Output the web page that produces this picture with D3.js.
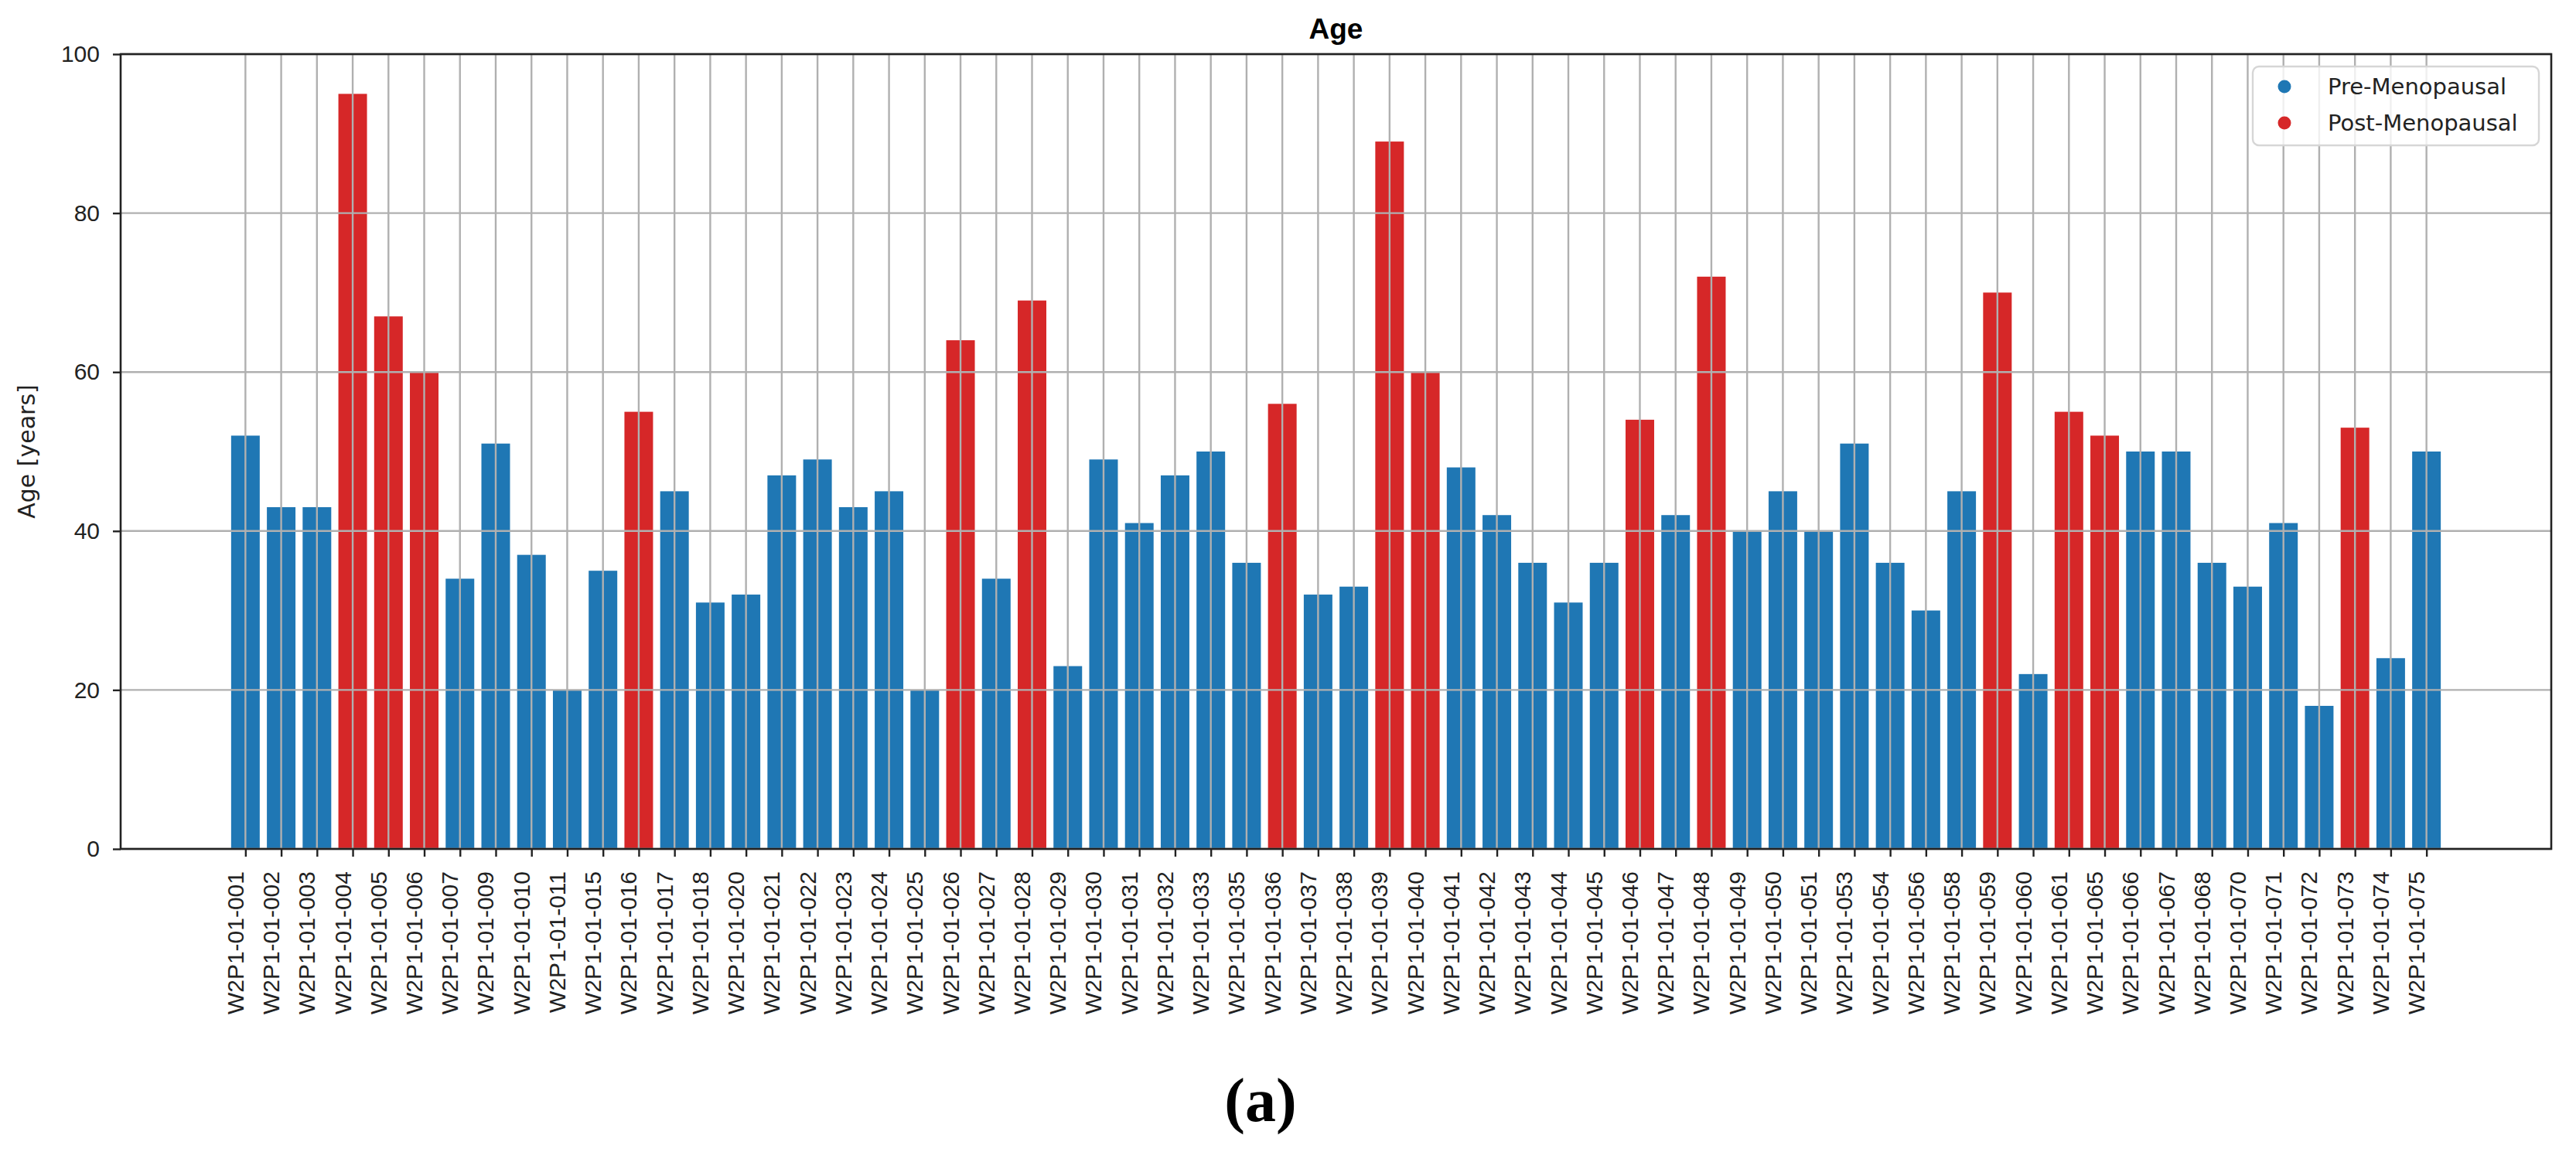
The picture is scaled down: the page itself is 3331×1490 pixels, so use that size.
<!DOCTYPE html>
<html>
<head>
<meta charset="utf-8">
<script src="https://cdnjs.cloudflare.com/ajax/libs/d3/7.8.5/d3.min.js"></script>
<style>
  body { margin: 0; background: #fff; }
  svg { display: block; }
</style>
</head>
<body>
<div id="chart"></div>
<script>
// patient ids, ages and menopausal status
const patients = [
  "W2P1-01-001", "W2P1-01-002", "W2P1-01-003", "W2P1-01-004", "W2P1-01-005", "W2P1-01-006",
  "W2P1-01-007", "W2P1-01-009", "W2P1-01-010", "W2P1-01-011", "W2P1-01-015", "W2P1-01-016",
  "W2P1-01-017", "W2P1-01-018", "W2P1-01-020", "W2P1-01-021", "W2P1-01-022", "W2P1-01-023",
  "W2P1-01-024", "W2P1-01-025", "W2P1-01-026", "W2P1-01-027", "W2P1-01-028", "W2P1-01-029",
  "W2P1-01-030", "W2P1-01-031", "W2P1-01-032", "W2P1-01-033", "W2P1-01-035", "W2P1-01-036",
  "W2P1-01-037", "W2P1-01-038", "W2P1-01-039", "W2P1-01-040", "W2P1-01-041", "W2P1-01-042",
  "W2P1-01-043", "W2P1-01-044", "W2P1-01-045", "W2P1-01-046", "W2P1-01-047", "W2P1-01-048",
  "W2P1-01-049", "W2P1-01-050", "W2P1-01-051", "W2P1-01-053", "W2P1-01-054", "W2P1-01-056",
  "W2P1-01-058", "W2P1-01-059", "W2P1-01-060", "W2P1-01-061", "W2P1-01-065", "W2P1-01-066",
  "W2P1-01-067", "W2P1-01-068", "W2P1-01-070", "W2P1-01-071", "W2P1-01-072", "W2P1-01-073",
  "W2P1-01-074", "W2P1-01-075"
];
const ages = [
  52, 43, 43, 95, 67, 60,
  34, 51, 37, 20, 35, 55,
  45, 31, 32, 47, 49, 43,
  45, 20, 64, 34, 69, 23,
  49, 41, 47, 50, 36, 56,
  32, 33, 89, 60, 48, 42,
  36, 31, 36, 54, 42, 72,
  40, 45, 40, 51, 36, 30,
  45, 70, 22, 55, 52, 50,
  50, 36, 33, 41, 18, 53,
  24, 50
];
const status = [
  "Pre", "Pre", "Pre", "Post", "Post", "Post",
  "Pre", "Pre", "Pre", "Pre", "Pre", "Post",
  "Pre", "Pre", "Pre", "Pre", "Pre", "Pre",
  "Pre", "Pre", "Post", "Pre", "Post", "Pre",
  "Pre", "Pre", "Pre", "Pre", "Pre", "Post",
  "Pre", "Pre", "Post", "Post", "Pre", "Pre",
  "Pre", "Pre", "Pre", "Post", "Pre", "Post",
  "Pre", "Pre", "Pre", "Pre", "Pre", "Pre",
  "Pre", "Post", "Pre", "Post", "Post", "Pre",
  "Pre", "Pre", "Pre", "Pre", "Pre", "Post",
  "Pre", "Pre"
];
const yTicks = [0, 20, 40, 60, 80, 100];
const legendLabels = ["Pre-Menopausal", "Post-Menopausal"];

const W = 3331, H = 1490;
const margins = { top: 70, right: 32, bottom: 392, left: 156 };
const width = W - margins.left - margins.right;
const height = H - margins.top - margins.bottom;

const tickFont = "'Liberation Sans', Arial, sans-serif";
const legendFont = "'DejaVu Sans', sans-serif";

const svg = d3.select("#chart")
  .append("svg")
  .attr("width", W)
  .attr("height", H);

const g = svg.append("g")
  .attr("transform", `translate(${margins.left},${margins.top})`);

const data = patients.map((p, i) => ({ i: i, id: p, age: ages[i], status: status[i] }));

// matplotlib style x limits: bar width 0.8 plus 5% margin
const n = patients.length;
const pad = 0.05 * (n - 1 + 0.8);
const x = d3.scaleLinear()
  .domain([-0.4 - pad, n - 1 + 0.4 + pad])
  .range([0, width]);
const bw = x(0.8) - x(0);

const y = d3.scaleLinear()
  .domain([0, 100])
  .range([height, 0]);

const color = d3.scaleOrdinal()
  .domain(["Pre", "Post"])
  .range(["#1f77b4", "#d62728"]);

// bars
g.selectAll(".bar")
  .data(data)
  .join("rect")
  .attr("class", "bar")
  .attr("x", d => x(d.i) - bw / 2)
  .attr("width", bw)
  .attr("y", d => y(d.age))
  .attr("height", d => height - y(d.age))
  .attr("fill", d => color(d.status));

// grid above bars
g.append("g")
  .selectAll("line")
  .data(d3.range(n))
  .join("line")
  .attr("x1", d => x(d)).attr("x2", d => x(d))
  .attr("y1", 0).attr("y2", height)
  .attr("stroke", "#b0b0b0")
  .attr("stroke-width", 2.4);

g.append("g")
  .selectAll("line")
  .data(yTicks)
  .join("line")
  .attr("x1", 0).attr("x2", width)
  .attr("y1", d => y(d)).attr("y2", d => y(d))
  .attr("stroke", "#b0b0b0")
  .attr("stroke-width", 2.4);

// frame
g.append("rect")
  .attr("width", width)
  .attr("height", height)
  .attr("fill", "none")
  .attr("stroke", "#222")
  .attr("stroke-width", 2.6);

// x axis
const xAxis = g.append("g")
  .attr("transform", `translate(0,${height})`)
  .call(d3.axisBottom(x)
    .tickValues(d3.range(n))
    .tickFormat(i => patients[i])
    .tickSize(10));
xAxis.select(".domain").remove();
xAxis.selectAll(".tick line").attr("stroke", "#222").attr("stroke-width", 2.4);
xAxis.selectAll(".tick text")
  .attr("font-family", tickFont)
  .attr("font-size", 30)
  .attr("fill", "#222")
  .attr("text-anchor", "end")
  .attr("transform", "translate(0,29) rotate(-90)")
  .attr("x", 0)
  .attr("y", -3)
  .attr("dy", 0);

// y axis
const yAxis = g.append("g")
  .call(d3.axisLeft(y)
    .tickValues(yTicks)
    .tickSize(10)
    .tickPadding(17));
yAxis.select(".domain").remove();
yAxis.selectAll(".tick line").attr("stroke", "#222").attr("stroke-width", 2.4);
yAxis.selectAll(".tick text")
  .attr("font-family", tickFont)
  .attr("font-size", 30)
  .attr("fill", "#222");

// y label
svg.append("text")
  .attr("transform", `translate(45,${margins.top + height / 2}) rotate(-90)`)
  .attr("text-anchor", "middle")
  .attr("font-family", legendFont)
  .attr("font-size", 30)
  .attr("fill", "#222")
  .text("Age [years]");

// title
svg.append("text")
  .attr("x", margins.left + width / 2)
  .attr("y", 50)
  .attr("text-anchor", "middle")
  .attr("font-family", tickFont)
  .attr("font-weight", "bold")
  .attr("font-size", 37)
  .attr("fill", "#000")
  .text("Age");

// legend
const legend = svg.append("g")
  .attr("transform", "translate(2913,86)");
legend.append("rect")
  .attr("width", 370)
  .attr("height", 102)
  .attr("rx", 8)
  .attr("fill", "#fff")
  .attr("fill-opacity", 0.8)
  .attr("stroke", "#d6d6d6")
  .attr("stroke-width", 2.4);
legendLabels.forEach(function(lbl, k) {
  const row = legend.append("g")
    .attr("transform", `translate(0,${26 + k * 47})`);
  row.append("circle")
    .attr("cx", 41)
    .attr("r", 8.5)
    .attr("fill", color(["Pre", "Post"][k]));
  row.append("text")
    .attr("x", 97)
    .attr("dy", "0.36em")
    .attr("font-family", legendFont)
    .attr("font-size", 29)
    .attr("fill", "#222")
    .text(lbl);
});

// panel caption
svg.append("text")
  .attr("x", 1630)
  .attr("y", 1450)
  .attr("text-anchor", "middle")
  .attr("font-family", "'Liberation Serif', 'Times New Roman', serif")
  .attr("font-weight", "bold")
  .attr("font-size", 80)
  .attr("fill", "#000")
  .text("(a)");
</script>
</body>
</html>
